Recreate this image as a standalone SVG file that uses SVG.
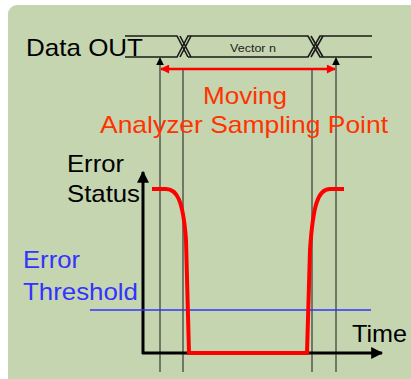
<svg xmlns="http://www.w3.org/2000/svg" width="411" height="379" viewBox="0 0 411 379">
<style>
.t{font-family:"Liberation Sans",Arial,sans-serif}
.bus{stroke:#1a1a1a;stroke-width:1.6;fill:none}
.vl{stroke:#1a1a1a;stroke-width:1;fill:none}
</style>
<defs>
<marker id="ah" viewBox="0 0 10 10" refX="9" refY="5" markerWidth="8" markerHeight="8" markerUnits="userSpaceOnUse" orient="auto"><path d="M0,0 L10,5 L0,10 Z" fill="#000"/></marker>
<marker id="ahr" viewBox="0 0 10 10" refX="9" refY="5" markerWidth="10" markerHeight="9" markerUnits="userSpaceOnUse" orient="auto-start-reverse"><path d="M0,0 L10,5 L0,10 Z" fill="#ff0000"/></marker>
<marker id="ahb" viewBox="0 0 10 10" refX="9" refY="5" markerWidth="12" markerHeight="12" markerUnits="userSpaceOnUse" orient="auto"><path d="M0,0 L10,5 L0,10 Z" fill="#000"/></marker>
</defs>
<rect x="0" y="0" width="411" height="379" fill="#ffffff"/>
<rect x="8" y="5" width="420" height="390" rx="9" fill="#c5d5b0"/>
<g id="data-out">
<text class="t" x="26" y="56" font-size="24" fill="#000" textLength="117" lengthAdjust="spacingAndGlyphs">Data OUT</text>
<path class="bus" d="M125,36 H177 L188,57 M125,57 H177 L188,36 H308 L320,57 H372 M188,57 H308 L320,36 H372"/>
<path class="bus" d="M180,36 L191,57 M180,57 L191,36 M311,36 L323,57 M311,57 L323,36" stroke-width="1"/>
<text class="t" x="230" y="52" font-size="11" fill="#222" textLength="46" lengthAdjust="spacingAndGlyphs">Vector n</text>
</g>
<g id="connectors">
<line class="vl" x1="160" y1="372" x2="160" y2="58" marker-end="url(#ah)"/>
<line class="vl" x1="336" y1="372" x2="336" y2="58" marker-end="url(#ah)"/>
<line class="vl" x1="183" y1="68" x2="183" y2="372"/>
<line class="vl" x1="312" y1="68" x2="312" y2="372"/>
<line x1="161" y1="69" x2="335" y2="69" stroke="#ff0000" stroke-width="2.5" marker-start="url(#ahr)" marker-end="url(#ahr)"/>
<line x1="143" y1="354" x2="143" y2="172" stroke="#000" stroke-width="3" marker-end="url(#ahb)"/>
<line x1="142" y1="353" x2="382" y2="353" stroke="#000" stroke-width="3" marker-end="url(#ahb)"/>
<line x1="90" y1="310" x2="371" y2="310" stroke="#3333ff" stroke-width="1.5"/>
<path d="M152,189 L166,189 C176,189 183,198 186,240 L189,353 L307,353 L310,250 C313,205 318,189 330,189 L344,189" fill="none" stroke="#ff0000" stroke-width="4"/>
</g>
<g id="labels">
<text class="t" x="203" y="104" font-size="24" fill="#ff3300" textLength="84" lengthAdjust="spacingAndGlyphs">Moving</text>
<text class="t" x="100" y="133" font-size="24" fill="#ff3300" textLength="288" lengthAdjust="spacingAndGlyphs">Analyzer Sampling Point</text>
<text class="t" x="67" y="172" font-size="24" fill="#000" textLength="57" lengthAdjust="spacingAndGlyphs">Error</text>
<text class="t" x="67" y="202" font-size="24" fill="#000" textLength="73" lengthAdjust="spacingAndGlyphs">Status</text>
<text class="t" x="23" y="268" font-size="24" fill="#3333ff" textLength="57" lengthAdjust="spacingAndGlyphs">Error</text>
<text class="t" x="23" y="300" font-size="24" fill="#3333ff" textLength="115" lengthAdjust="spacingAndGlyphs">Threshold</text>
<text class="t" x="352" y="342" font-size="24" fill="#000" textLength="55" lengthAdjust="spacingAndGlyphs">Time</text>
</g>
</svg>
